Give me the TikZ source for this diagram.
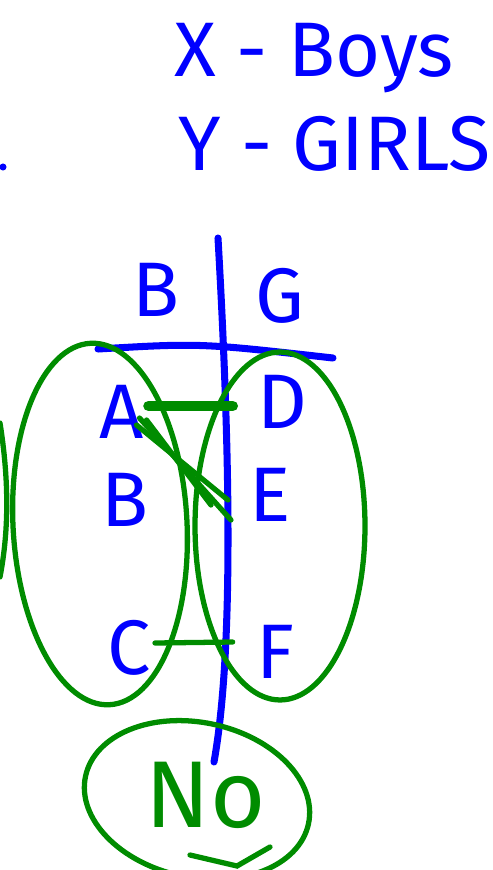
\documentclass[tikz,border=0pt]{standalone}
\usepackage{fontspec}
\setmainfont{Fira Sans}
\usetikzlibrary{shapes.geometric,calc}
\definecolor{penblue}{RGB}{0,0,255}
\definecolor{pengreen}{RGB}{0,140,0}

\begin{document}
\begin{tikzpicture}[
  x=0.02cm,y=-0.02cm,
  font=\fontsize{44}{52}\selectfont,
  letter/.style={text=penblue,inner sep=0pt},
  ink/.style={draw=penblue,line width=4pt,line cap=round},
  set/.style={draw=pengreen,ellipse,line width=3pt,inner sep=0pt},
  tie/.style={draw=pengreen,line width=3pt,line cap=round}
]
\useasboundingbox (0,0) rectangle (493,870);
% legend
\node[letter,anchor=base west] (xboys) at (174,76) {X - Boys};
\node[letter,anchor=base west] (ygirls) at (178,170) {Y - GIRLS};
\fill[penblue] (3,167) circle (2pt);
% table
\node[letter] (hb) at (156,290) {B};
\node[letter] (hg) at (280,296) {G};
\coordinate (vtop) at (218,238);
\coordinate (vbot) at (214,762);
\coordinate (hl) at (98,349);
\coordinate (hr) at (333,358);
\draw[ink] (vtop) .. controls (230,450) and (234,650) .. (vbot);
\draw[ink] (hl) .. controls (200,343) .. (hr);
% sets
\node[set,minimum width=3.48cm,minimum height=7.24cm,rotate=3] (boyset) at (100,524) {};
\node[set,minimum width=3.4cm,minimum height=6.96cm] (girlset) at (280,526) {};
\draw[tie] (0,423) .. controls (9,480) and (9,530) .. (0,577);
\node[letter] (a) at (122,412) {A};
\node[letter] (b) at (125,500) {B};
\node[letter] (c) at (129,648) {C};
\node[letter] (d) at (282,402) {D};
\node[letter] (e) at (270,495) {E};
\node[letter] (f) at (275,652) {F};
% pairs
\draw[tie,line width=6pt] ($(a.east)+(4,-6)$) -- ($(d.west)+(-24,4)$);
\draw[tie] ($(a.east)+(-8,13)$) -- ($(e.west)+(-21,5)$);
\draw[tie] ($(a.east)+(-5,6)$) -- ($(e.west)+(-18,25)$);
\draw[tie] ($(a.east)+(2,8)$) -- ($(e.west)+(-38,10)$);
\draw[tie] ($(c.east)+(4,-5)$) -- ($(f.west)+(-23,-10)$);
% answer
\node[set,minimum width=4.56cm,minimum height=3.1cm,rotate=-12] (noset) at (197,800) {};
\node[text=pengreen,font=\fontsize{54}{60}\selectfont,inner sep=0pt] (no) at (206,795) {No};
\draw[tie] (190,855) -- (237,866) -- (270,847);
\end{tikzpicture}
\end{document}
